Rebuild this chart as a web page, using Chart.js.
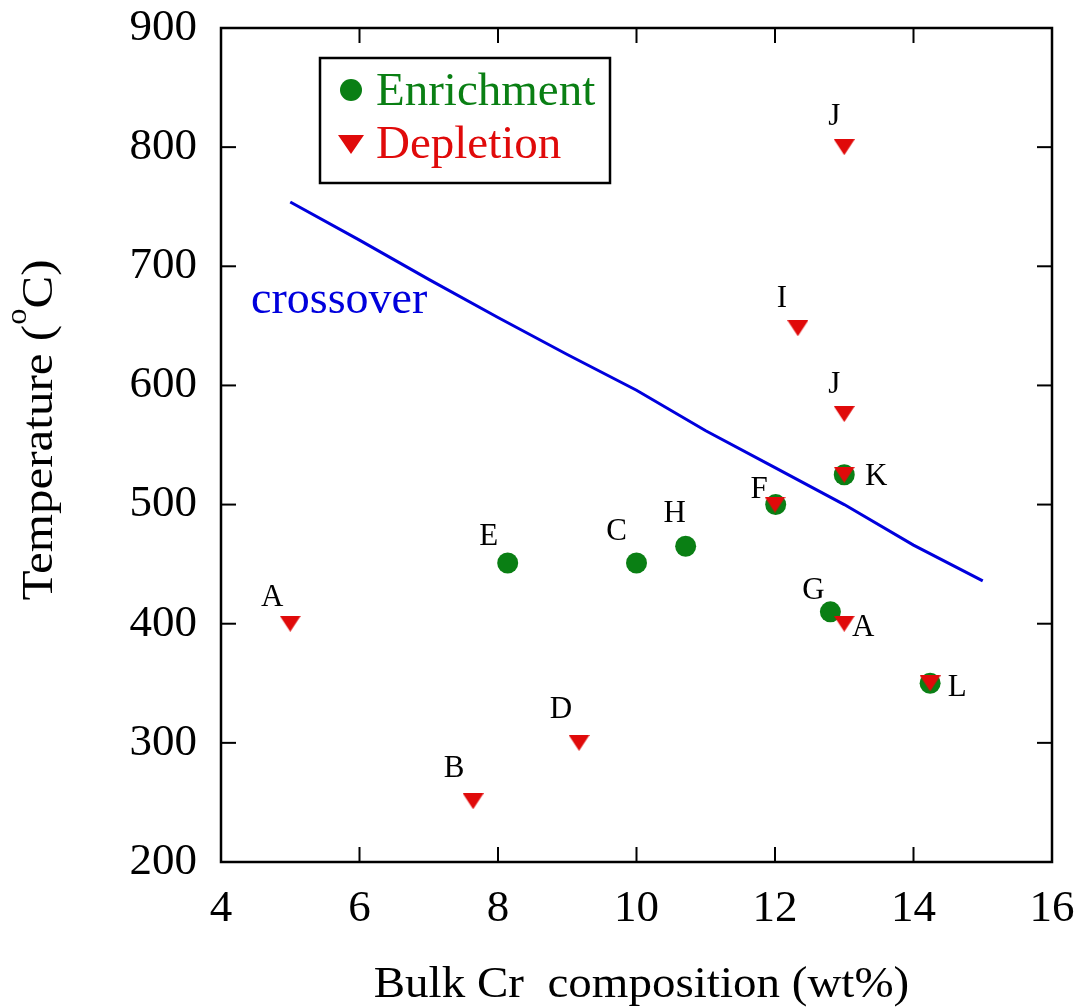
<!DOCTYPE html>
<html>
<head>
<meta charset="utf-8">
<title>Bulk Cr composition vs temperature</title>
<script src="https://cdn.jsdelivr.net/npm/chart.js@4.4.0/dist/chart.umd.min.js"></script>
<style>
  html, body { margin: 0; padding: 0; background: #ffffff; }
  #wrap { width: 1081px; height: 1008px; }
</style>
</head>
<body>
<div id="wrap"><canvas id="chart" width="1081" height="1008"></canvas></div>
<script>
// ---- data ----
const enrichX = [8.14, 10.0, 10.71, 12.01, 13.0, 12.8, 14.24];
const enrichY = [451, 451, 465, 500, 525, 410, 350];
const enrichLabels = ['E', 'C', 'H', '', '', 'G', ''];

const depletX = [5.0, 7.64, 9.17, 12.0, 12.33, 13.0, 13.0, 13.0, 13.0, 14.24];
const depletY = [400, 251, 300, 500, 648, 800, 576, 525, 400, 350];
const depletLabels = ['A', 'B', 'D', 'F', 'I', 'J', 'J', 'K', 'A', 'L'];

const crossX = [5, 6, 7, 8, 9, 10, 11, 12, 13, 14, 15];
const crossY = [754, 722, 689, 657, 626, 596, 562, 531, 500, 466, 436];

const xTicks = [4, 6, 8, 10, 12, 14, 16];
const yTicks = [200, 300, 400, 500, 600, 700, 800, 900];

const legendNames = ['Enrichment', 'Depletion'];
const xTitle = 'Bulk Cr  composition (wt%)';
const yTitleMain = 'Temperature (';
const yTitleSup = 'o';
const yTitleEnd = 'C)';
const lineName = 'crossover';

// ---- styles ----
const SERIF = '"Liberation Serif", "Times New Roman", Times, serif';
const GREEN = '#0a7f14';
const RED = '#e00a0a';
const BLUE = '#0000dd';

// downward triangle marker, centred on its bounding box
function makeTriangle(w, h, color) {
  const c = document.createElement('canvas');
  c.width = w; c.height = h;
  const g = c.getContext('2d');
  g.fillStyle = color;
  g.beginPath();
  g.moveTo(0, 0); g.lineTo(w, 0); g.lineTo(w / 2, h); g.closePath();
  g.fill();
  return c;
}
const triMarker = makeTriangle(21, 16, RED);

// label offsets (px) from each marker
const enrichOffsets = [[-19, -28], [-20, -33], [-11, -35], null, null, [-17, -23], null];
const depletOffsets = [[-18, -28], [-19, -34], [-18, -35], [-16, -17], [-16, -32],
                       [-10, -32], [-10, -31], [32, 0], [19, 2], [27, 2]];

const toPts = (xs, ys) => xs.map((v, i) => ({ x: v, y: ys[i] }));

// keep the plot area exactly where the layout padding puts it
function noScalePadding(s) {
  s.paddingTop = 0; s.paddingBottom = 0; s.paddingLeft = 0; s.paddingRight = 0;
}

// frame, inward ticks, titles, legend and point labels
const decorations = {
  id: 'decorations',
  afterDraw(chart) {
    const { ctx, chartArea: a, scales: { x, y } } = chart;
    ctx.save();
    const seg = (x1, y1, x2, y2) => { ctx.beginPath(); ctx.moveTo(x1, y1); ctx.lineTo(x2, y2); ctx.stroke(); };

    // frame
    ctx.strokeStyle = '#000';
    ctx.lineWidth = 2.5;
    ctx.strokeRect(a.left, a.top, a.right - a.left, a.bottom - a.top);

    // ticks on all four sides, pointing inward
    ctx.lineWidth = 2;
    const TL = 15;
    xTicks.forEach(v => {
      const px = x.getPixelForValue(v);
      seg(px, a.bottom, px, a.bottom - TL);
      seg(px, a.top, px, a.top + TL);
    });
    yTicks.forEach(v => {
      const py = y.getPixelForValue(v);
      seg(a.left, py, a.left + TL, py);
      seg(a.right, py, a.right - TL, py);
    });

    // point labels
    ctx.fillStyle = '#000';
    ctx.font = '31px ' + SERIF;
    ctx.textAlign = 'center';
    ctx.textBaseline = 'alphabetic';
    const cap = 0.331 * 31;
    const drawLabels = (dsIndex, labels, offsets) => {
      const meta = chart.getDatasetMeta(dsIndex);
      labels.forEach((t, i) => {
        if (!t || !offsets[i]) return;
        const p = meta.data[i];
        ctx.fillText(t, p.x + offsets[i][0], p.y + offsets[i][1] + cap);
      });
    };
    drawLabels(1, enrichLabels, enrichOffsets);
    drawLabels(0, depletLabels, depletOffsets);

    // crossover line name
    ctx.fillStyle = BLUE;
    ctx.font = '46px ' + SERIF;
    ctx.textAlign = 'left';
    ctx.fillText(lineName, 251, 313);

    // legend box
    const lx = a.left + 99, ly = a.top + 30, lw = 290, lh = 125;
    ctx.strokeStyle = '#000';
    ctx.lineWidth = 2.5;
    ctx.strokeRect(lx, ly, lw, lh);
    ctx.fillStyle = GREEN;
    ctx.beginPath();
    ctx.arc(lx + 31, ly + 32, 11, 0, Math.PI * 2);
    ctx.fill();
    ctx.fillStyle = RED;
    ctx.beginPath();
    ctx.moveTo(lx + 18, ly + 77);
    ctx.lineTo(lx + 44, ly + 77);
    ctx.lineTo(lx + 31, ly + 96);
    ctx.closePath();
    ctx.fill();
    ctx.font = '47px ' + SERIF;
    ctx.fillStyle = GREEN;
    ctx.fillText(legendNames[0], lx + 56, ly + 47);
    ctx.fillStyle = RED;
    ctx.fillText(legendNames[1], lx + 56, ly + 100);

    // x axis title (slightly widened lettering)
    ctx.save();
    ctx.fillStyle = '#000';
    ctx.font = '45px ' + SERIF;
    ctx.textAlign = 'center';
    ctx.translate((a.left + a.right) / 2 + 5, 997);
    ctx.scale(1.045, 1);
    ctx.fillText(xTitle, 0, 0);
    ctx.restore();

    // y axis title with superscript degree mark
    ctx.save();
    ctx.fillStyle = '#000';
    ctx.translate(52, 430);
    ctx.rotate(-Math.PI / 2);
    ctx.scale(1.09, 1);
    ctx.textAlign = 'left';
    ctx.font = '45px ' + SERIF;
    const w1 = ctx.measureText(yTitleMain).width;
    const w3 = ctx.measureText(yTitleEnd).width;
    ctx.font = '30px ' + SERIF;
    const w2 = ctx.measureText(yTitleSup).width;
    let cx = -(w1 + w2 + w3) / 2;
    ctx.font = '45px ' + SERIF;
    ctx.fillText(yTitleMain, cx, 0);
    cx += w1;
    ctx.font = '30px ' + SERIF;
    ctx.fillText(yTitleSup, cx, -26);
    cx += w2;
    ctx.font = '45px ' + SERIF;
    ctx.fillText(yTitleEnd, cx, 0);
    ctx.restore();

    ctx.restore();
  }
};

new Chart(document.getElementById('chart'), {
  type: 'scatter',
  data: {
    datasets: [
      {
        label: legendNames[1],
        data: toPts(depletX, depletY),
        pointStyle: triMarker,
        pointRadius: 10,
        order: 0
      },
      {
        label: legendNames[0],
        data: toPts(enrichX, enrichY),
        pointStyle: 'circle',
        pointRadius: 10.5,
        backgroundColor: GREEN,
        borderWidth: 0,
        order: 1
      },
      {
        type: 'line',
        label: lineName,
        data: toPts(crossX, crossY),
        borderColor: BLUE,
        borderWidth: 3,
        pointRadius: 0,
        tension: 0,
        fill: false,
        order: 2
      }
    ]
  },
  options: {
    responsive: false,
    animation: false,
    events: [],
    layout: { padding: { top: 28, right: 29, left: 0, bottom: 0 } },
    plugins: { legend: { display: false }, tooltip: { enabled: false }, title: { display: false } },
    scales: {
      x: {
        type: 'linear',
        min: 4, max: 16,
        afterFit(s) { s.height = 146; noScalePadding(s); },
        afterBuildTicks(s) { s.ticks = xTicks.map(v => ({ value: v })); },
        grid: { display: false, drawTicks: false },
        border: { display: false },
        ticks: { color: '#000', font: { family: SERIF, size: 45 }, padding: 20, maxRotation: 0 }
      },
      y: {
        type: 'linear',
        min: 200, max: 900,
        afterFit(s) { s.width = 221; noScalePadding(s); },
        afterBuildTicks(s) { s.ticks = yTicks.map(v => ({ value: v })); },
        grid: { display: false, drawTicks: false },
        border: { display: false },
        ticks: { color: '#000', font: { family: SERIF, size: 45 }, padding: 24 }
      }
    }
  },
  plugins: [decorations]
});
</script>
</body>
</html>
